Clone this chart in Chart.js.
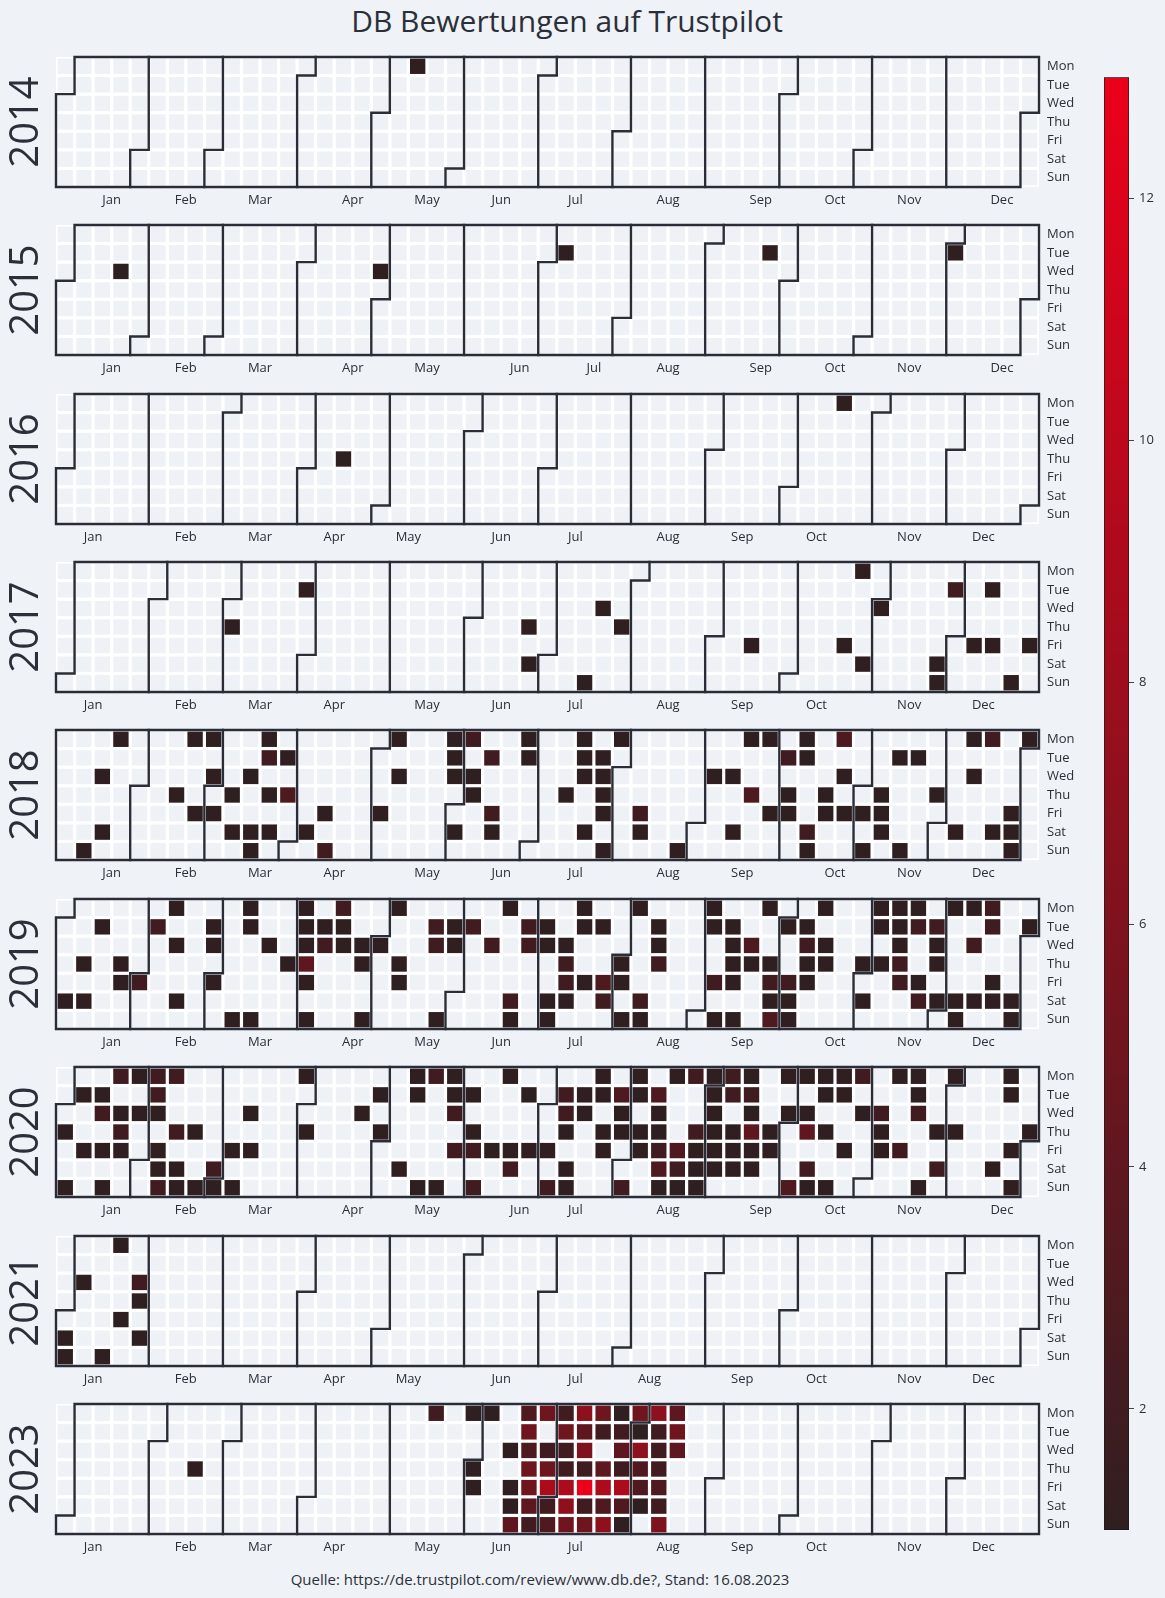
<!DOCTYPE html>
<html>
<head>
<meta charset="utf-8">
<script src="https://cdn.jsdelivr.net/npm/chart.js@4.4.1/dist/chart.umd.min.js"></script>
<style>
  html, body { margin: 0; padding: 0; }
  body { width: 1165px; height: 1598px; background: #eff2f6; position: relative; overflow: hidden;
         font-family: 'Open Sans', 'DejaVu Sans', sans-serif; color: #2a2f3a; }
  .title { position: absolute; left: 0; width: 1134px; top: 3px; text-align: center;
           font-size: 30px; line-height: 36px; color: #2a2f3a; }
  .footer { position: absolute; left: 0; width: 1080px; top: 1569px; text-align: center;
            font-size: 15px; line-height: 20px; color: #2a2f3a; }
  canvas { position: absolute; }
</style>
</head>
<body>
<div class="title">DB Bewertungen auf Trustpilot</div>
<div class="footer">Quelle: https://de.trustpilot.com/review/www.db.de?, Stand: 16.08.2023</div>
<div id="holder"></div>
<script>
// ---------------- DATA ----------------
const years = [2014, 2015, 2016, 2017, 2018, 2019, 2020, 2021, 2023];
const weekdayNames = ['Mon', 'Tue', 'Wed', 'Thu', 'Fri', 'Sat', 'Sun'];
const monthNames = ['Jan', 'Feb', 'Mar', 'Apr', 'May', 'Jun', 'Jul', 'Aug', 'Sep', 'Oct', 'Nov', 'Dec'];
// week column (label sits between this column and the next) of each month label, per year
const monthTickWeeks2014 = [2, 6, 10, 15, 19, 23, 27, 32, 37, 41, 45, 50];
const monthTickWeeks2015 = [2, 6, 10, 15, 19, 24, 28, 32, 37, 41, 45, 50];
const monthTickWeeks2016 = [1, 6, 10, 14, 18, 23, 27, 32, 36, 40, 45, 49];
const monthTickWeeks2017 = [1, 6, 10, 14, 19, 23, 27, 32, 36, 40, 45, 49];
const monthTickWeeks2018 = [2, 6, 10, 14, 19, 23, 27, 32, 36, 41, 45, 49];
const monthTickWeeks2019 = [2, 6, 10, 15, 19, 23, 27, 32, 36, 41, 45, 49];
const monthTickWeeks2020 = [2, 6, 10, 15, 19, 24, 27, 32, 37, 41, 45, 50];
const monthTickWeeks2021 = [1, 6, 10, 14, 18, 23, 27, 31, 36, 40, 45, 49];
const monthTickWeeks2023 = [1, 6, 10, 14, 19, 23, 27, 32, 36, 40, 45, 49];

const reviews2014 = [['2014-05-12', 1]];
const reviews2015 = [['2015-01-21', 1], ['2015-04-29', 1], ['2015-07-07', 1], ['2015-09-22', 1], ['2015-12-01', 1]];
const reviews2016 = [['2016-04-14', 1], ['2016-10-17', 1]];
const reviews2017 = [
  ['2017-03-02', 1], ['2017-03-28', 1], ['2017-06-22', 1], ['2017-06-24', 1], ['2017-07-16', 1],
  ['2017-07-19', 1], ['2017-07-27', 1], ['2017-09-15', 1], ['2017-10-20', 1], ['2017-10-23', 1],
  ['2017-10-28', 1], ['2017-11-01', 1], ['2017-11-25', 1], ['2017-11-26', 1], ['2017-11-28', 2],
  ['2017-12-08', 1], ['2017-12-12', 1], ['2017-12-15', 1], ['2017-12-24', 1], ['2017-12-29', 1]];
const reviews2018 = [
  ['2018-01-14', 1], ['2018-01-17', 1], ['2018-01-20', 1], ['2018-01-22', 1],
  ['2018-02-15', 1], ['2018-02-19', 1], ['2018-02-23', 1], ['2018-02-26', 1], ['2018-02-28', 1],
  ['2018-03-02', 1], ['2018-03-08', 1], ['2018-03-10', 1], ['2018-03-14', 1], ['2018-03-17', 1],
  ['2018-03-18', 1], ['2018-03-19', 1], ['2018-03-20', 2], ['2018-03-22', 1], ['2018-03-24', 1],
  ['2018-03-27', 1], ['2018-03-29', 3],
  ['2018-04-07', 1], ['2018-04-13', 1], ['2018-04-15', 2],
  ['2018-05-04', 1], ['2018-05-07', 1], ['2018-05-09', 1], ['2018-05-28', 1], ['2018-05-29', 1], ['2018-05-30', 1],
  ['2018-06-02', 1], ['2018-06-04', 2], ['2018-06-06', 1], ['2018-06-07', 1], ['2018-06-12', 2],
  ['2018-06-15', 2], ['2018-06-16', 1], ['2018-06-25', 1], ['2018-06-26', 1],
  ['2018-07-12', 1], ['2018-07-16', 1], ['2018-07-17', 1], ['2018-07-18', 1], ['2018-07-21', 1],
  ['2018-07-24', 1], ['2018-07-25', 1], ['2018-07-26', 1], ['2018-07-27', 1], ['2018-07-29', 1], ['2018-07-30', 1],
  ['2018-08-10', 2], ['2018-08-11', 1], ['2018-08-26', 1],
  ['2018-09-05', 1], ['2018-09-12', 1], ['2018-09-15', 1], ['2018-09-17', 1], ['2018-09-20', 3],
  ['2018-09-24', 1], ['2018-09-28', 1],
  ['2018-10-02', 2], ['2018-10-04', 1], ['2018-10-05', 1], ['2018-10-08', 1], ['2018-10-09', 1],
  ['2018-10-13', 2], ['2018-10-14', 1], ['2018-10-18', 1], ['2018-10-19', 1], ['2018-10-22', 3],
  ['2018-10-24', 1], ['2018-10-26', 1],
  ['2018-11-02', 1], ['2018-11-04', 1], ['2018-11-08', 1], ['2018-11-09', 1], ['2018-11-10', 1],
  ['2018-11-13', 1], ['2018-11-18', 1], ['2018-11-20', 1], ['2018-11-29', 1],
  ['2018-12-08', 1], ['2018-12-10', 1], ['2018-12-12', 1], ['2018-12-17', 2], ['2018-12-22', 1],
  ['2018-12-28', 1], ['2018-12-29', 1], ['2018-12-30', 1], ['2018-12-31', 1]];
const reviews2019 = [
  ['2019-01-05', 1], ['2019-01-10', 1], ['2019-01-12', 1], ['2019-01-15', 1], ['2019-01-24', 1], ['2019-01-25', 1],
  ['2019-02-01', 2], ['2019-02-05', 2], ['2019-02-11', 1], ['2019-02-13', 1], ['2019-02-16', 1],
  ['2019-02-26', 1], ['2019-02-27', 1],
  ['2019-03-01', 1], ['2019-03-10', 1], ['2019-03-11', 1], ['2019-03-12', 1], ['2019-03-17', 1],
  ['2019-03-20', 1], ['2019-03-28', 1],
  ['2019-04-01', 1], ['2019-04-02', 1], ['2019-04-03', 1], ['2019-04-04', 4], ['2019-04-05', 1],
  ['2019-04-07', 1], ['2019-04-09', 1], ['2019-04-10', 2], ['2019-04-15', 2], ['2019-04-16', 1],
  ['2019-04-17', 1], ['2019-04-24', 1], ['2019-04-25', 1], ['2019-04-28', 1],
  ['2019-05-01', 1], ['2019-05-06', 1], ['2019-05-09', 1], ['2019-05-10', 1], ['2019-05-21', 2],
  ['2019-05-22', 2], ['2019-05-26', 1], ['2019-05-28', 1], ['2019-05-29', 1],
  ['2019-06-04', 2], ['2019-06-12', 2], ['2019-06-17', 1], ['2019-06-22', 2], ['2019-06-23', 1],
  ['2019-06-25', 2], ['2019-06-26', 2],
  ['2019-07-02', 1], ['2019-07-03', 1], ['2019-07-06', 1], ['2019-07-07', 1], ['2019-07-10', 1],
  ['2019-07-11', 2], ['2019-07-12', 2], ['2019-07-13', 1], ['2019-07-15', 1], ['2019-07-16', 1],
  ['2019-07-19', 1], ['2019-07-23', 1], ['2019-07-26', 3], ['2019-07-27', 2],
  ['2019-08-01', 1], ['2019-08-02', 1], ['2019-08-04', 1], ['2019-08-05', 1], ['2019-08-10', 2],
  ['2019-08-11', 1], ['2019-08-13', 1], ['2019-08-14', 1], ['2019-08-15', 2],
  ['2019-09-02', 1], ['2019-09-03', 1], ['2019-09-06', 2], ['2019-09-08', 1], ['2019-09-10', 1],
  ['2019-09-11', 1], ['2019-09-12', 1], ['2019-09-13', 1], ['2019-09-15', 1], ['2019-09-18', 3],
  ['2019-09-19', 1], ['2019-09-23', 1], ['2019-09-26', 1], ['2019-09-27', 2], ['2019-09-28', 1], ['2019-09-29', 3],
  ['2019-10-01', 1], ['2019-10-04', 2], ['2019-10-05', 1], ['2019-10-06', 1], ['2019-10-08', 1],
  ['2019-10-09', 2], ['2019-10-10', 1], ['2019-10-11', 1], ['2019-10-14', 1], ['2019-10-16', 1],
  ['2019-10-17', 1], ['2019-10-31', 1],
  ['2019-11-02', 1], ['2019-11-04', 1], ['2019-11-05', 1], ['2019-11-07', 1], ['2019-11-11', 1],
  ['2019-11-12', 1], ['2019-11-13', 1], ['2019-11-14', 2], ['2019-11-15', 2], ['2019-11-18', 1],
  ['2019-11-19', 2], ['2019-11-22', 1], ['2019-11-23', 2], ['2019-11-26', 2], ['2019-11-27', 1],
  ['2019-11-28', 1], ['2019-11-30', 1],
  ['2019-12-02', 1], ['2019-12-07', 1], ['2019-12-08', 1], ['2019-12-09', 1], ['2019-12-11', 2],
  ['2019-12-14', 1], ['2019-12-16', 2], ['2019-12-17', 2], ['2019-12-20', 1], ['2019-12-21', 1],
  ['2019-12-28', 1], ['2019-12-29', 1], ['2019-12-31', 1]];
const reviews2020 = [
  ['2020-01-02', 1], ['2020-01-05', 1], ['2020-01-07', 1], ['2020-01-10', 1], ['2020-01-14', 1],
  ['2020-01-15', 2], ['2020-01-17', 1], ['2020-01-19', 1], ['2020-01-20', 2], ['2020-01-22', 1],
  ['2020-01-23', 2], ['2020-01-24', 1], ['2020-01-27', 1], ['2020-01-29', 1],
  ['2020-02-03', 2], ['2020-02-04', 2], ['2020-02-05', 1], ['2020-02-07', 1], ['2020-02-08', 1],
  ['2020-02-09', 2], ['2020-02-10', 2], ['2020-02-13', 2], ['2020-02-15', 1], ['2020-02-16', 1],
  ['2020-02-20', 1], ['2020-02-23', 1], ['2020-02-29', 2],
  ['2020-03-01', 1], ['2020-03-06', 1], ['2020-03-08', 1], ['2020-03-11', 1], ['2020-03-13', 1], ['2020-03-30', 1],
  ['2020-04-02', 1], ['2020-04-22', 1], ['2020-04-28', 1], ['2020-04-30', 1],
  ['2020-05-09', 1], ['2020-05-11', 1], ['2020-05-12', 1], ['2020-05-17', 1], ['2020-05-18', 2],
  ['2020-05-24', 1], ['2020-05-25', 1], ['2020-05-26', 1], ['2020-05-27', 2], ['2020-05-29', 2],
  ['2020-06-02', 1], ['2020-06-04', 1], ['2020-06-05', 2], ['2020-06-07', 2], ['2020-06-12', 1],
  ['2020-06-15', 1], ['2020-06-19', 1], ['2020-06-20', 2], ['2020-06-23', 1], ['2020-06-26', 1],
  ['2020-07-03', 1], ['2020-07-05', 2], ['2020-07-07', 2], ['2020-07-08', 2], ['2020-07-09', 1],
  ['2020-07-11', 1], ['2020-07-12', 1], ['2020-07-14', 1], ['2020-07-15', 1], ['2020-07-20', 1],
  ['2020-07-21', 1], ['2020-07-23', 1], ['2020-07-24', 1], ['2020-07-28', 3], ['2020-07-29', 1], ['2020-07-30', 1],
  ['2020-08-02', 2], ['2020-08-03', 1], ['2020-08-04', 1], ['2020-08-06', 1], ['2020-08-07', 1],
  ['2020-08-11', 3], ['2020-08-12', 1], ['2020-08-13', 1], ['2020-08-14', 2], ['2020-08-15', 3],
  ['2020-08-16', 1], ['2020-08-17', 1], ['2020-08-21', 3], ['2020-08-22', 2], ['2020-08-23', 1],
  ['2020-08-24', 2], ['2020-08-27', 2], ['2020-08-28', 1], ['2020-08-29', 1], ['2020-08-30', 1], ['2020-08-31', 1],
  ['2020-09-01', 1], ['2020-09-02', 1], ['2020-09-03', 1], ['2020-09-04', 1], ['2020-09-05', 1],
  ['2020-09-07', 2], ['2020-09-08', 2], ['2020-09-10', 1], ['2020-09-11', 1], ['2020-09-12', 1],
  ['2020-09-14', 1], ['2020-09-15', 2], ['2020-09-16', 1], ['2020-09-17', 4], ['2020-09-18', 1],
  ['2020-09-19', 1], ['2020-09-24', 1], ['2020-09-25', 1], ['2020-09-28', 1], ['2020-09-30', 1],
  ['2020-10-04', 3], ['2020-10-05', 1], ['2020-10-07', 1], ['2020-10-08', 4], ['2020-10-10', 2],
  ['2020-10-11', 1], ['2020-10-12', 1], ['2020-10-13', 1], ['2020-10-15', 1], ['2020-10-18', 1],
  ['2020-10-19', 1], ['2020-10-20', 1], ['2020-10-23', 1], ['2020-10-26', 2], ['2020-10-28', 1],
  ['2020-11-04', 2], ['2020-11-05', 1], ['2020-11-06', 1], ['2020-11-09', 1], ['2020-11-13', 2],
  ['2020-11-16', 1], ['2020-11-17', 1], ['2020-11-18', 2], ['2020-11-22', 1], ['2020-11-26', 1],
  ['2020-11-28', 2], ['2020-11-30', 1],
  ['2020-12-03', 1], ['2020-12-19', 1], ['2020-12-21', 1], ['2020-12-22', 1], ['2020-12-25', 1],
  ['2020-12-27', 1], ['2020-12-31', 1]];
const reviews2021 = [
  ['2021-01-02', 1], ['2021-01-03', 1], ['2021-01-06', 1], ['2021-01-17', 1], ['2021-01-18', 1],
  ['2021-01-22', 1], ['2021-01-27', 2], ['2021-01-28', 1], ['2021-01-30', 1]];
const reviews2023 = [
  ['2023-02-16', 1],
  ['2023-05-15', 2], ['2023-05-29', 1], ['2023-06-01', 1], ['2023-06-02', 1], ['2023-06-05', 1],
  ['2023-06-14', 1], ['2023-06-16', 1], ['2023-06-17', 1], ['2023-06-18', 4],
  ['2023-06-19', 3], ['2023-06-20', 5], ['2023-06-21', 3], ['2023-06-22', 5], ['2023-06-23', 5],
  ['2023-06-24', 4], ['2023-06-25', 2],
  ['2023-06-26', 5], ['2023-06-28', 2], ['2023-06-29', 5], ['2023-06-30', 9], ['2023-07-01', 2], ['2023-07-02', 3],
  ['2023-07-03', 2], ['2023-07-04', 5], ['2023-07-05', 2], ['2023-07-06', 2], ['2023-07-07', 9],
  ['2023-07-08', 7], ['2023-07-09', 5],
  ['2023-07-10', 7], ['2023-07-11', 4], ['2023-07-12', 6], ['2023-07-13', 2], ['2023-07-14', 13],
  ['2023-07-15', 2], ['2023-07-16', 5],
  ['2023-07-17', 5], ['2023-07-18', 2], ['2023-07-20', 4], ['2023-07-21', 9], ['2023-07-22', 3], ['2023-07-23', 7],
  ['2023-07-24', 1], ['2023-07-25', 2], ['2023-07-26', 4], ['2023-07-27', 2], ['2023-07-28', 9],
  ['2023-07-29', 3], ['2023-07-30', 1],
  ['2023-07-31', 5], ['2023-08-01', 1], ['2023-08-02', 7], ['2023-08-03', 3], ['2023-08-04', 3], ['2023-08-05', 1],
  ['2023-08-07', 7], ['2023-08-08', 2], ['2023-08-09', 2], ['2023-08-10', 2], ['2023-08-11', 3],
  ['2023-08-12', 2], ['2023-08-13', 6],
  ['2023-08-14', 4], ['2023-08-15', 5], ['2023-08-16', 4]];

const reviewsByYear = [reviews2014, reviews2015, reviews2016, reviews2017, reviews2018,
                       reviews2019, reviews2020, reviews2021, reviews2023];
const monthTicksByYear = [monthTickWeeks2014, monthTickWeeks2015, monthTickWeeks2016, monthTickWeeks2017,
                          monthTickWeeks2018, monthTickWeeks2019, monthTickWeeks2020, monthTickWeeks2021,
                          monthTickWeeks2023];
const colorbarTicks = [2, 4, 6, 8, 10, 12];
const colorMin = 1, colorMax = 13;

// ---------------- STYLE / LAYOUT ----------------
const FONT = "'Open Sans', 'DejaVu Sans', sans-serif";
const TEXT = '#2a2f3a';
const FRAME = '#2a2d37';
const EMPTY = '#eef2f6';
const LOW = [48, 31, 32], HIGH = [236, 0, 26];
const GRID_LEFT = 56, GRID_RIGHT = 1039, PAGE_W = 1165;
const FIRST_TOP = 56.7, PANEL_STEP = 168.4, GRID_H = 130;
const PAD_TOP = 22, XAXIS_H = 30, GAP = 3.2;

Chart.defaults.font.family = FONT;
Chart.defaults.color = TEXT;

function colorFor(v) {
  const t = Math.max(0, Math.min(1, (v - colorMin) / (colorMax - colorMin)));
  const c = LOW.map((l, i) => Math.round(l + (HIGH[i] - l) * t));
  return `rgb(${c[0]},${c[1]},${c[2]})`;
}
function dayNum(y, m, d) { return Math.round(Date.UTC(y, m - 1, d) / 864e5); }
function yearBase(year) {
  const j = dayNum(year, 1, 1);
  const wd = (new Date(Date.UTC(year, 0, 1)).getUTCDay() + 6) % 7;
  return j - wd;
}
function cellOfDay(year, n) {
  const off = n - yearBase(year);
  return { c: Math.floor(off / 7), r: off % 7 };
}
function cellOfIso(year, iso) {
  const [y, m, d] = iso.split('-').map(Number);
  return cellOfDay(year, dayNum(y, m, d));
}
function boundaryPts(c, r) {
  if (r === 0) return [[c - 0.5, -0.5], [c - 0.5, 6.5]];
  return [[c + 0.5, -0.5], [c + 0.5, r - 0.5], [c - 0.5, r - 0.5], [c - 0.5, 6.5]];
}

const calendarPlugin = {
  id: 'calendarFrame',
  beforeDatasetsDraw(chart) {
    const { ctx, chartArea: a } = chart;
    ctx.save();
    ctx.fillStyle = '#ffffff';
    ctx.fillRect(a.left, a.top, a.right - a.left, a.bottom - a.top);
    ctx.restore();
  },
  afterDatasetsDraw(chart, args, opts) {
    const year = opts.year;
    const { ctx } = chart;
    const xs = chart.scales.x, ys = chart.scales.y;
    const P = p => [xs.getPixelForValue(p[0]), ys.getPixelForValue(p[1])];
    ctx.save();
    ctx.strokeStyle = FRAME;
    ctx.lineWidth = 2.4;
    ctx.lineJoin = 'miter';
    ctx.lineCap = 'square';
    for (let m = 2; m <= 12; m++) {
      const { c, r } = cellOfDay(year, dayNum(year, m, 1));
      const pts = boundaryPts(c, r).map(P);
      ctx.beginPath();
      pts.forEach((p, i) => i ? ctx.lineTo(p[0], p[1]) : ctx.moveTo(p[0], p[1]));
      ctx.stroke();
    }
    const s = cellOfDay(year, dayNum(year, 1, 1));
    const e = cellOfDay(year, dayNum(year + 1, 1, 1));
    const left = boundaryPts(s.c, s.r).map(P);
    const right = boundaryPts(e.c, e.r).map(P).reverse();
    ctx.beginPath();
    left.concat(right).forEach((p, i) => i ? ctx.lineTo(p[0], p[1]) : ctx.moveTo(p[0], p[1]));
    ctx.closePath();
    ctx.stroke();
    ctx.restore();
  }
};

function cellRadius(chart) {
  const xs = chart.scales.x;
  const pitch = xs.getPixelForValue(1) - xs.getPixelForValue(0);
  return (pitch - GAP) / Math.SQRT2;
}

const holder = document.getElementById('holder');
years.forEach((year, k) => {
  const top = FIRST_TOP + PANEL_STEP * k;
  const canvas = document.createElement('canvas');
  const H = PAD_TOP + GRID_H + XAXIS_H;
  canvas.width = PAGE_W; canvas.height = H;
  canvas.style.left = '0px';
  canvas.style.top = (top - PAD_TOP) + 'px';
  canvas.style.width = PAGE_W + 'px'; canvas.style.height = H + 'px';
  holder.appendChild(canvas);

  const bg = [];
  for (let c = 0; c <= 52; c++) for (let r = 0; r < 7; r++) bg.push({ x: c, y: r });
  const pts = reviewsByYear[k].map(([iso, v]) => { const q = cellOfIso(year, iso); return { x: q.c, y: q.r, v }; });
  const ticks = monthTicksByYear[k];

  new Chart(canvas, {
    type: 'scatter',
    data: {
      datasets: [
        { label: 'reviews', data: pts, order: 1, pointStyle: 'rect',
          pointRadius: ctx => cellRadius(ctx.chart), pointHoverRadius: ctx => cellRadius(ctx.chart),
          backgroundColor: ctx => colorFor(ctx.raw ? ctx.raw.v : 1),
          pointBackgroundColor: ctx => colorFor(ctx.raw ? ctx.raw.v : 1),
          borderWidth: 0, pointBorderWidth: 0 },
        { label: 'days', data: bg, order: 2, pointStyle: 'rect',
          pointRadius: ctx => cellRadius(ctx.chart), pointHoverRadius: ctx => cellRadius(ctx.chart),
          backgroundColor: EMPTY, pointBackgroundColor: EMPTY, borderWidth: 0, pointBorderWidth: 0 }
      ]
    },
    options: {
      responsive: false, animation: false, events: [],
      layout: { padding: { top: PAD_TOP, left: 0, right: 0, bottom: 0 } },
      plugins: { legend: { display: false }, tooltip: { enabled: false }, calendarFrame: { year } },
      scales: {
        x: {
          type: 'linear', position: 'bottom', min: -0.5, max: 52.5,
          grid: { display: false, drawTicks: false }, border: { display: false },
          afterFit: s => { s.height = XAXIS_H; },
          afterBuildTicks: s => { s.ticks = ticks.map(w => ({ value: w + 0.5 })); },
          ticks: { autoSkip: false, maxRotation: 0, padding: 5, font: { size: 13 }, color: TEXT,
                   callback: (v, i) => monthNames[i] }
        },
        y: {
          type: 'linear', position: 'right', min: -0.5, max: 6.5, reverse: true,
          grid: { display: false, drawTicks: false }, border: { display: false },
          afterFit: s => { s.width = PAGE_W - GRID_RIGHT; },
          afterBuildTicks: s => { s.ticks = weekdayNames.map((n, i) => ({ value: i })); },
          ticks: { autoSkip: false, padding: 8, font: { size: 13 }, color: TEXT,
                   callback: v => weekdayNames[v] }
        },
        yl: {
          type: 'linear', position: 'left',
          grid: { display: false, drawTicks: false }, border: { display: false },
          ticks: { display: false },
          afterFit: s => { s.width = GRID_LEFT; },
          title: { display: true, text: String(year), color: TEXT,
                   font: { size: 40, family: FONT }, padding: { top: 3, bottom: 0 } }
        }
      }
    },
    plugins: [calendarPlugin]
  });
});

// ---------------- COLORBAR ----------------
(function () {
  const canvas = document.createElement('canvas');
  const L = 1090, T = 60, W = 75, H = 1490;
  canvas.width = W; canvas.height = H;
  canvas.style.left = L + 'px'; canvas.style.top = T + 'px';
  canvas.style.width = W + 'px'; canvas.style.height = H + 'px';
  holder.appendChild(canvas);
  new Chart(canvas, {
    type: 'bar',
    data: {
      labels: ['count'],
      datasets: [{
        data: [[colorMin, colorMax]],
        backgroundColor: ctx => {
          const ch = ctx.chart;
          if (!ch.chartArea) return colorFor(colorMin);
          const y = ch.scales.y;
          const g = ch.ctx.createLinearGradient(0, y.getPixelForValue(colorMin), 0, y.getPixelForValue(colorMax));
          for (let i = 0; i <= 12; i++) {
            const v = colorMin + (colorMax - colorMin) * i / 12;
            g.addColorStop(i / 12, colorFor(v));
          }
          return g;
        },
        borderColor: '#1a1a1a', borderWidth: 1, borderSkipped: false,
        barPercentage: 1, categoryPercentage: 1
      }]
    },
    options: {
      responsive: false, animation: false, events: [],
      layout: { padding: { left: 14, top: 17.3, bottom: 20, right: 0 } },
      plugins: { legend: { display: false }, tooltip: { enabled: false } },
      scales: {
        x: { display: false },
        y: {
          type: 'linear', position: 'right', min: colorMin, max: colorMax,
          afterFit: s => { s.width = 36; },
          afterBuildTicks: s => { s.ticks = colorbarTicks.map(v => ({ value: v })); },
          grid: { display: true, drawOnChartArea: false, drawTicks: true, tickLength: 5, color: '#444' },
          border: { display: false },
          ticks: { padding: 5, font: { size: 13 }, color: TEXT }
        }
      }
    }
  });
})();
</script>
</body>
</html>
